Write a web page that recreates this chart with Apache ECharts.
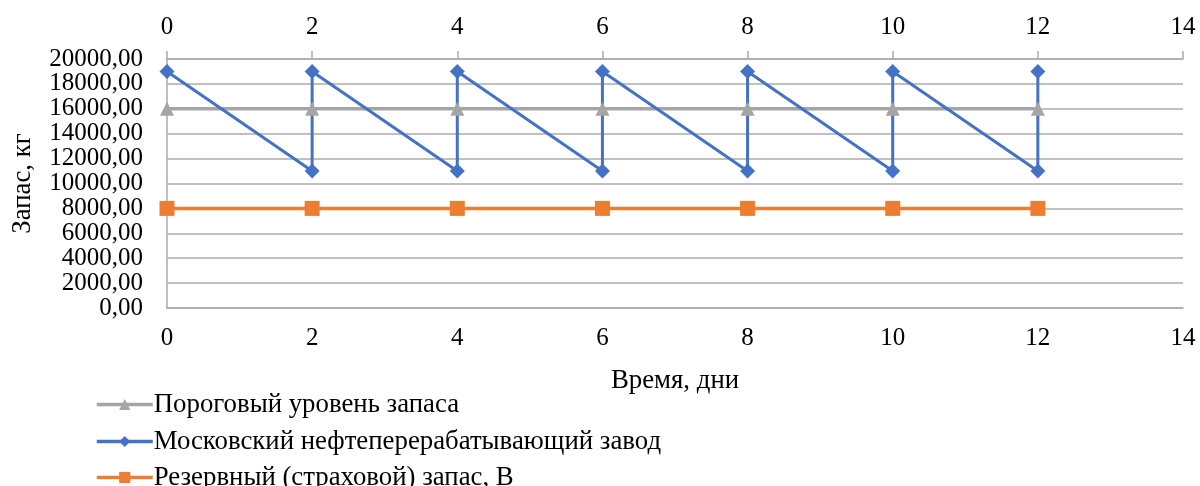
<!DOCTYPE html>
<html>
<head>
<meta charset="utf-8">
<script src="https://cdn.jsdelivr.net/npm/echarts@6/dist/echarts.min.js"></script>
<style>html,body{margin:0;padding:0;background:#fff}#c{width:1200px;height:486px}</style>
</head>
<body>
<div id="c"></div>
<script>
const seriesNames = ['Пороговый уровень запаса', 'Московский нефтеперерабатывающий завод', 'Резервный (страховой) запас, В'];
const days = [0, 2, 4, 6, 8, 10, 12];
const thresholdValues = [16000, 16000, 16000, 16000, 16000, 16000, 16000];
const refineryX = [0, 2, 2, 4, 4, 6, 6, 8, 8, 10, 10, 12, 12];
const refineryY = [19000, 11000, 19000, 11000, 19000, 11000, 19000, 11000, 19000, 11000, 19000, 11000, 19000];
const reserveValues = [8000, 8000, 8000, 8000, 8000, 8000, 8000];
const xAxisName = 'Время, дни';
const yAxisName = 'Запас, кг';

const FONT = 'Liberation Serif';
const FS = 25;
const FT = 26.8;
const pairs = (xs, ys) => xs.map((x, i) => [x, ys[i]]);
const chart = echarts.init(document.getElementById('c'));
const gridColor = '#ABABAB';
const legendTops = [391, 428, 464];
const legends = seriesNames.map((n, i) => ({
  orient: 'vertical', left: 95, top: legendTops[i], padding: 0,
  itemWidth: 56, itemHeight: 14,
  lineStyle: { width: 3.5 },
  textStyle: { fontFamily: FONT, fontSize: FT, color: '#000', padding: [0, 0, 0, -4] },
  data: [n]
}));
chart.setOption({
  animation: false,
  textStyle: { fontFamily: FONT, color: '#000' },
  grid: { left: 167, right: 17, top: 59, bottom: 178, containLabel: false },
  legend: legends,
  xAxis: [
    {
      type: 'value', position: 'bottom', min: 0, max: 14, interval: 2,
      name: xAxisName, nameLocation: 'middle', nameGap: 59,
      nameTextStyle: { fontFamily: FONT, fontSize: FT, color: '#000' },
      axisLine: { show: true, lineStyle: { color: gridColor, width: 1.5 } },
      axisTick: { show: false },
      splitLine: { show: false },
      axisLabel: { fontFamily: FONT, fontSize: FS, color: '#000', margin: 18 }
    },
    {
      type: 'value', position: 'top', min: 0, max: 14, interval: 2,
      axisLine: { show: true, lineStyle: { color: gridColor, width: 1.5 } },
      axisTick: { show: true, length: 8, lineStyle: { color: gridColor, width: 1.5 } },
      splitLine: { show: false },
      axisLabel: { fontFamily: FONT, fontSize: FS, color: '#000', margin: 19 }
    }
  ],
  yAxis: {
    type: 'value', min: 0, max: 20000, interval: 2000,
    name: yAxisName, nameLocation: 'middle', nameGap: 131, nameRotate: 90,
    nameTextStyle: { fontFamily: FONT, fontSize: FT, color: '#000' },
    axisLine: { show: true, lineStyle: { color: gridColor, width: 1.5 } },
    axisTick: { show: false },
    splitLine: { show: true, lineStyle: { color: gridColor, width: 1.5 } },
    axisLabel: {
      fontFamily: FONT, fontSize: FS, color: '#000', margin: 24,
      formatter: v => v.toFixed(2).replace('.', ',')
    }
  },
  series: [
    {
      name: seriesNames[0], type: 'line', xAxisIndex: 0,
      data: pairs(days, thresholdValues),
      symbol: 'triangle', symbolSize: 14,
      lineStyle: { color: '#A5A5A5', width: 3.5 },
      itemStyle: { color: '#A5A5A5' }
    },
    {
      name: seriesNames[1], type: 'line', xAxisIndex: 0,
      data: pairs(refineryX, refineryY),
      symbol: 'diamond', symbolSize: 15,
      lineStyle: { color: '#4472C4', width: 3 },
      itemStyle: { color: '#4472C4' }
    },
    {
      name: seriesNames[2], type: 'line', xAxisIndex: 0,
      data: pairs(days, reserveValues),
      symbol: 'rect', symbolSize: 15,
      lineStyle: { color: '#ED7D31', width: 3.5 },
      itemStyle: { color: '#ED7D31' }
    }
  ]
});
</script>
</body>
</html>
